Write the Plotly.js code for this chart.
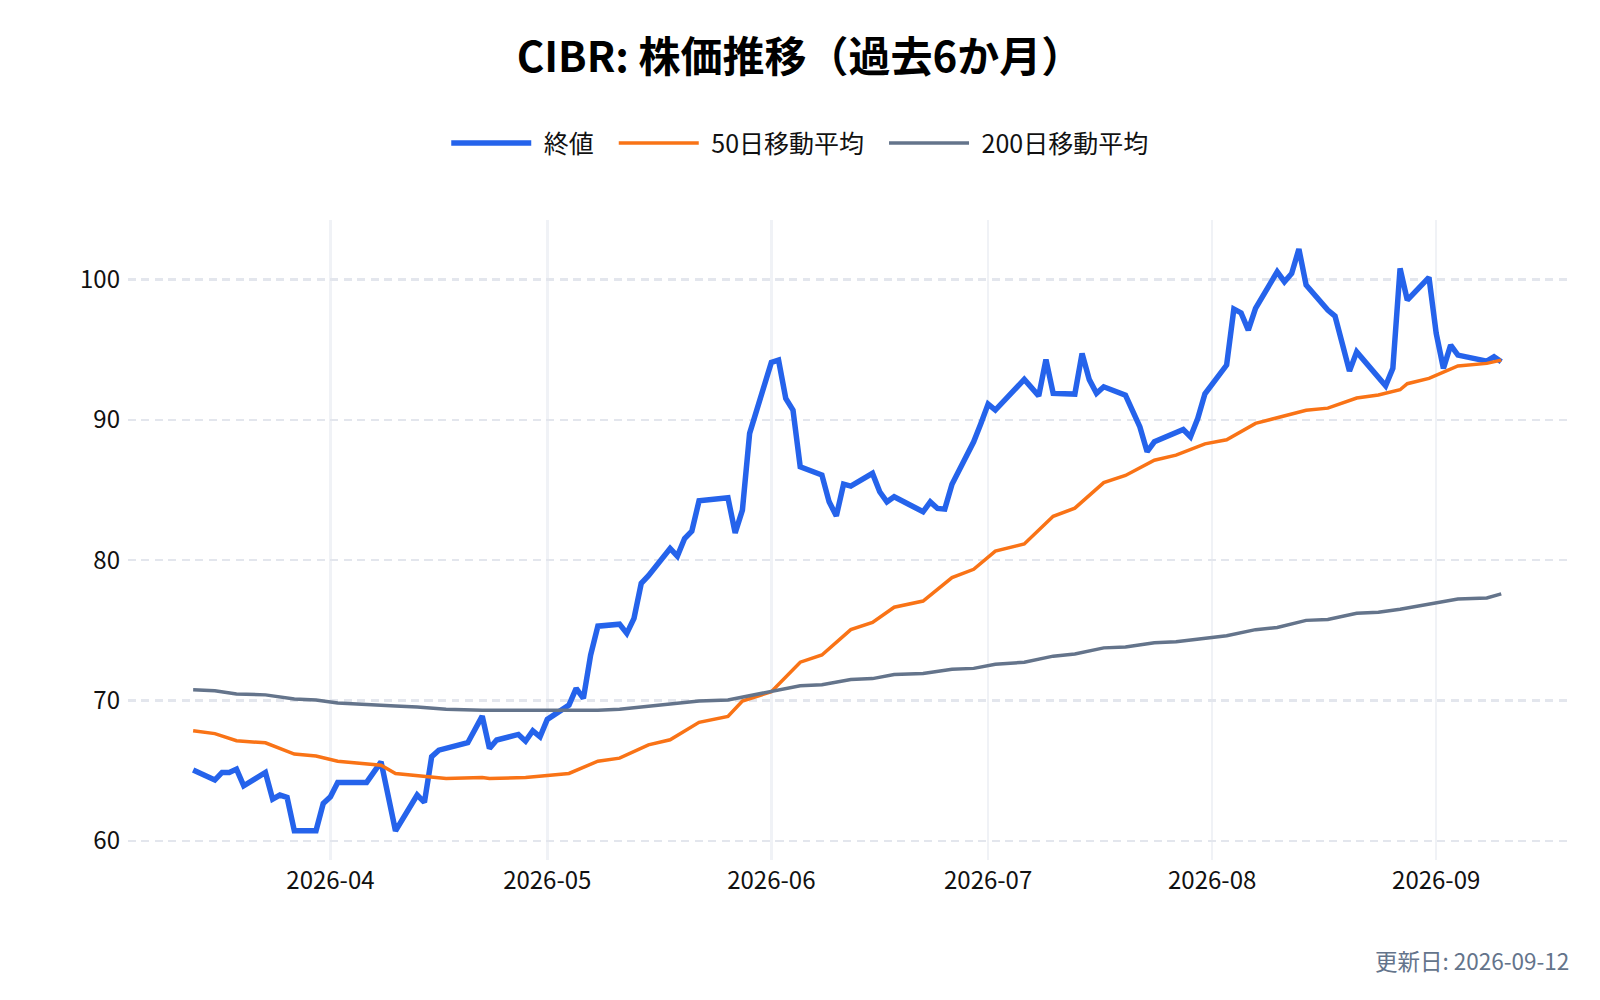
<!DOCTYPE html>
<html lang="ja">
<head>
<meta charset="utf-8">
<title>CIBR 株価推移</title>
<script src="https://cdn.plot.ly/plotly-3.0.1.min.js"></script>
<style>
  html, body { margin: 0; padding: 0; background: #fff; width: 1600px; height: 1000px; overflow: hidden; }
  /* chart is laid out at 640x400 and shown at 2.5x, like an export with scale 2.5 */
  #chart { width: 640px; height: 400px; transform: scale(2.5); transform-origin: 0 0; }
</style>
</head>
<body>
<div id="chart"></div>
<script>
/* ============================================================
   DATA ‚Äî
   ============================================================ */

// Êó•Ê¨° ÁµÇÂÄ§ (trading days)
const closeDates = [
  "2026-03-13", "2026-03-16", "2026-03-17", "2026-03-18", "2026-03-19", "2026-03-20",
  "2026-03-23", "2026-03-24", "2026-03-25", "2026-03-26", "2026-03-27", "2026-03-30",
  "2026-03-31", "2026-04-01", "2026-04-02", "2026-04-06", "2026-04-08", "2026-04-10",
  "2026-04-13", "2026-04-14", "2026-04-15", "2026-04-16", "2026-04-20", "2026-04-22",
  "2026-04-23", "2026-04-24", "2026-04-27", "2026-04-28", "2026-04-29", "2026-04-30",
  "2026-05-01", "2026-05-04", "2026-05-05", "2026-05-06", "2026-05-07", "2026-05-08",
  "2026-05-11", "2026-05-12", "2026-05-13", "2026-05-14", "2026-05-15", "2026-05-18",
  "2026-05-19", "2026-05-20", "2026-05-21", "2026-05-22", "2026-05-26", "2026-05-27",
  "2026-05-28", "2026-05-29", "2026-06-01", "2026-06-02", "2026-06-03", "2026-06-04",
  "2026-06-05", "2026-06-08", "2026-06-09", "2026-06-10", "2026-06-11", "2026-06-12",
  "2026-06-15", "2026-06-16", "2026-06-17", "2026-06-18", "2026-06-22", "2026-06-23",
  "2026-06-24", "2026-06-25", "2026-06-26", "2026-06-29", "2026-06-30", "2026-07-01",
  "2026-07-02", "2026-07-06", "2026-07-08", "2026-07-09", "2026-07-10", "2026-07-13",
  "2026-07-14", "2026-07-15", "2026-07-16", "2026-07-17", "2026-07-20", "2026-07-21",
  "2026-07-22", "2026-07-23", "2026-07-24", "2026-07-28", "2026-07-29", "2026-07-30",
  "2026-07-31", "2026-08-03", "2026-08-04", "2026-08-05", "2026-08-06", "2026-08-07",
  "2026-08-10", "2026-08-11", "2026-08-12", "2026-08-13", "2026-08-14", "2026-08-17",
  "2026-08-18", "2026-08-19", "2026-08-20", "2026-08-21", "2026-08-24", "2026-08-25",
  "2026-08-26", "2026-08-27", "2026-08-28", "2026-08-31", "2026-09-01", "2026-09-02",
  "2026-09-03", "2026-09-04", "2026-09-08", "2026-09-09", "2026-09-10"
];
const closeValues = [
  65.04, 64.33, 64.87, 64.87, 65.11, 63.92,
  64.87, 62.97, 63.26, 63.09, 60.71, 60.71,
  62.66, 63.14, 64.16, 64.16, 65.63, 60.71,
  63.26, 62.74, 65.99, 66.46, 66.99, 68.89,
  66.58, 67.18, 67.58, 67.10, 67.84, 67.41,
  68.65, 69.67, 70.86, 70.15, 73.24, 75.30,
  75.44, 74.78, 75.85, 78.35, 78.90, 80.84,
  80.29, 81.55, 82.07, 84.23, 84.45, 81.95,
  83.57, 89.04, 94.10, 94.26, 91.53, 90.70,
  86.66, 86.07, 84.16, 83.16, 85.42, 85.28,
  86.19, 84.88, 84.16, 84.52, 83.45, 84.16,
  83.69, 83.64, 85.42, 88.44, 89.75, 91.13,
  90.70, 92.89, 91.71, 94.31, 91.89, 91.84,
  94.74, 92.87, 91.89, 92.36, 91.77, 90.60,
  89.50, 87.73, 88.44, 89.32, 88.80, 90.10,
  91.86, 93.91, 97.90, 97.63, 96.40, 97.95,
  100.56, 99.85, 100.44, 102.18, 99.61, 97.83,
  97.40, 95.45, 93.48, 94.85, 93.14, 92.43,
  93.67, 100.80, 98.54, 100.16, 96.17, 93.67,
  95.33, 94.62, 94.19, 94.50, 94.14
];

// ÁßªÂãïÂπ≥Âùá (same sample dates for both averages)
const maDates = [
  "2026-03-13", "2026-03-16", "2026-03-19", "2026-03-23", "2026-03-27", "2026-03-30",
  "2026-04-02", "2026-04-07", "2026-04-08", "2026-04-10", "2026-04-13", "2026-04-15",
  "2026-04-17", "2026-04-22", "2026-04-23", "2026-04-28", "2026-05-01", "2026-05-04",
  "2026-05-08", "2026-05-11", "2026-05-15", "2026-05-18", "2026-05-22", "2026-05-26",
  "2026-05-28", "2026-06-01", "2026-06-05", "2026-06-08", "2026-06-12", "2026-06-15",
  "2026-06-18", "2026-06-22", "2026-06-26", "2026-06-29", "2026-07-02", "2026-07-06",
  "2026-07-10", "2026-07-13", "2026-07-17", "2026-07-20", "2026-07-24", "2026-07-27",
  "2026-07-31", "2026-08-03", "2026-08-07", "2026-08-10", "2026-08-14", "2026-08-17",
  "2026-08-21", "2026-08-24", "2026-08-27", "2026-08-28", "2026-08-31", "2026-09-04",
  "2026-09-08", "2026-09-10"
];
const ma50Values = [
  67.85, 67.64, 67.13, 66.98, 66.18, 66.04,
  65.67, 65.45, 65.38, 64.80, 64.65, 64.44,
  64.44, 64.51, 64.44, 64.51, 64.65, 64.80,
  65.67, 65.89, 66.84, 67.20, 68.44, 68.87,
  69.96, 70.62, 72.73, 73.24, 75.05, 75.56,
  76.65, 77.09, 78.76, 79.35, 80.65, 81.16,
  83.13, 83.71, 85.53, 86.04, 87.13, 87.49,
  88.29, 88.58, 89.75, 90.18, 90.69, 90.84,
  91.56, 91.78, 92.15, 92.58, 92.96, 93.85,
  94.03, 94.26
];
const ma200Values = [
  70.76, 70.69, 70.47, 70.40, 70.11, 70.04,
  69.82, 69.75, 69.72, 69.60, 69.53, 69.45,
  69.38, 69.31, 69.31, 69.27, 69.24, 69.24,
  69.31, 69.38, 69.60, 69.67, 69.96, 70.04,
  70.25, 70.55, 71.05, 71.13, 71.49, 71.56,
  71.85, 71.93, 72.22, 72.29, 72.58, 72.73,
  73.16, 73.31, 73.75, 73.82, 74.11, 74.18,
  74.47, 74.62, 75.05, 75.20, 75.71, 75.78,
  76.22, 76.29, 76.51, 76.60, 76.87, 77.24,
  77.31, 77.60
];

const seriesNames = ["終値", "50日移動平均", "200日移動平均"];
const yTicks = [60, 70, 80, 90, 100];
const chartTitle = "CIBR: 株価推移（過去6か月）";
const updatedText = "更新日: 2026-09-12";

/* ============================================================
   CHART (640x400 layout, shown at 2.5x)
   ============================================================ */
const FONT = '"Noto Sans CJK JP", "Noto Sans", sans-serif';

const traces = [
  {
    x: closeDates,
    y: closeValues,
    name: seriesNames[0],
    type: "scatter",
    mode: "lines",
    line: { color: "#2563eb", width: 2.2 },
  },
  {
    x: maDates,
    y: ma50Values,
    name: seriesNames[1],
    type: "scatter",
    mode: "lines",
    line: { color: "#f97316", width: 1.4 },
  },
  {
    x: maDates,
    y: ma200Values,
    name: seriesNames[2],
    type: "scatter",
    mode: "lines",
    line: { color: "#64748b", width: 1.4 },
  },
];

const layout = {
  width: 640,
  height: 400,
  paper_bgcolor: "#ffffff",
  plot_bgcolor: "#ffffff",
  font: { family: FONT, color: "#111111", size: 10 },
  margin: { l: 51.2, r: 12.8, t: 88, b: 56 },
  title: {
    text: chartTitle,
    x: 0.5,
    xref: "container",
    xanchor: "center",
    y: 0.943,
    yref: "container",
    yanchor: "middle",
    font: { family: FONT, size: 16.8, color: "#000000", weight: 700 },
  },
  showlegend: true,
  legend: {
    orientation: "h",
    x: 0.5,
    xref: "container",
    xanchor: "center",
    y: 0.857,
    yref: "container",
    yanchor: "middle",
    itemwidth: 32,
    font: { family: FONT, size: 10, color: "#111111" },
    bgcolor: "rgba(0,0,0,0)",
  },
  xaxis: {
    type: "date",
    range: ["2026-03-03 22:00", "2026-09-19 04:00"],
    dtick: "M1",
    tick0: "2026-04-01",
    tickformat: "%Y-%m",
    showgrid: true,
    gridcolor: "#f0f2f6",
    gridwidth: 0.8,
    zeroline: false,
    showline: false,
    ticks: "",
    ticklabelstandoff: 1,
    tickfont: { family: FONT, size: 9.6, color: "#111111" },
  },
  yaxis: {
    range: [58.63, 104.25],
    tickvals: yTicks,
    showgrid: true,
    gridcolor: "#e3e6ed",
    gridwidth: 0.8,
    griddash: "3.2px,2.2px",
    zeroline: false,
    showline: false,
    ticks: "",
    ticklabelstandoff: 2,
    tickfont: { family: FONT, size: 9.6, color: "#111111" },
  },
  annotations: [
    {
      text: updatedText,
      xref: "paper",
      yref: "paper",
      x: 1.005,
      y: -0.158,
      xanchor: "right",
      yanchor: "middle",
      showarrow: false,
      font: { family: FONT, size: 9, color: "#64748b" },
    },
  ],
};

Plotly.newPlot("chart", traces, layout, { displayModeBar: false, responsive: false });
</script>
</body>
</html>
